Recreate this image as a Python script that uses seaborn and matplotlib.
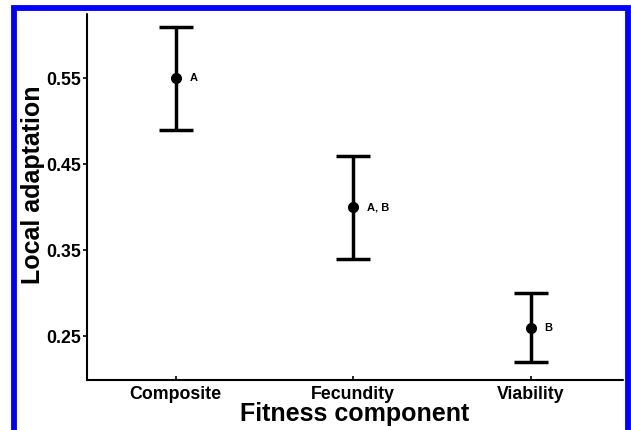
import matplotlib
matplotlib.use("Agg")
import matplotlib.pyplot as plt
from matplotlib.patches import Rectangle
import pandas as pd
import seaborn as sns

# Local adaptation estimates per fitness component
components = ["Composite", "Fecundity", "Viability"]
means = [0.55, 0.40, 0.26]
errors = [0.06, 0.06, 0.04]
groups = ["A", "A, B", "B"]
yticks = [0.25, 0.35, 0.45, 0.55]

df = pd.DataFrame({"component": components, "mean": means,
                   "err": errors, "group": groups})

sns.set_theme(style="ticks")
plt.rcParams["font.family"] = ["Liberation Sans", "DejaVu Sans"]
plt.rcParams["font.weight"] = "bold"
plt.rcParams["axes.labelcolor"] = "black"
plt.rcParams["text.color"] = "black"

W, H = 631, 430
fig = plt.figure(figsize=(W / 100, H / 100), dpi=100)
ax = fig.add_axes([87 / W, (H - 380) / H, (623 - 87) / W, (380 - 14) / H])

pos = list(range(len(df)))
ax.errorbar(pos, df["mean"], yerr=df["err"], fmt="none", ecolor="black",
            elinewidth=2.5, capsize=12.5, capthick=2.5, zorder=2)
sns.scatterplot(data=df, x="component", y="mean", ax=ax, color="black",
                s=64, edgecolor="black", linewidth=0, zorder=3, legend=False)

for x, (y, g) in zip(pos, zip(df["mean"], df["group"])):
    ax.annotate(g, (x, y), xytext=(10, 0), textcoords="offset points",
                ha="left", va="center", fontsize=8, fontweight="bold",
                color="black")

ax.set_xlim(-0.5, 2.52)
ax.set_ylim(0.199, 0.625)
ax.set_yticks(yticks)
ax.set_yticklabels([f"{v:.2f}" for v in yticks])

ax.set_xlabel("Fitness component", fontsize=18, fontweight="bold",
              color="black")
ax.set_ylabel("Local adaptation", fontsize=18, fontweight="bold",
              color="black")
ax.xaxis.set_label_coords(0.5, -0.06)
ax.yaxis.set_label_coords(-0.079, 0.534)

sns.despine(ax=ax)
for side in ("left", "bottom"):
    ax.spines[side].set_linewidth(1.5)
    ax.spines[side].set_color("black")
    ax.spines[side].set_capstyle("round")

ax.tick_params(axis="x", direction="in", length=3, width=1.2, pad=4,
               labelsize=12.8, colors="black")
ax.tick_params(axis="y", direction="out", length=3, width=1.2, pad=1.5,
               labelsize=12.8, colors="black")
for lab in ax.get_xticklabels() + ax.get_yticklabels():
    lab.set_fontweight("bold")

# blue frame around the figure
fig.patches.append(Rectangle((13.5 / W, -0.05), (628 - 13.5) / W,
                             (H - 8) / H + 0.05, transform=fig.transFigure,
                             fill=False, edgecolor="#0000ff", linewidth=4.2,
                             zorder=10))

fig.savefig("out.png", dpi=100)
